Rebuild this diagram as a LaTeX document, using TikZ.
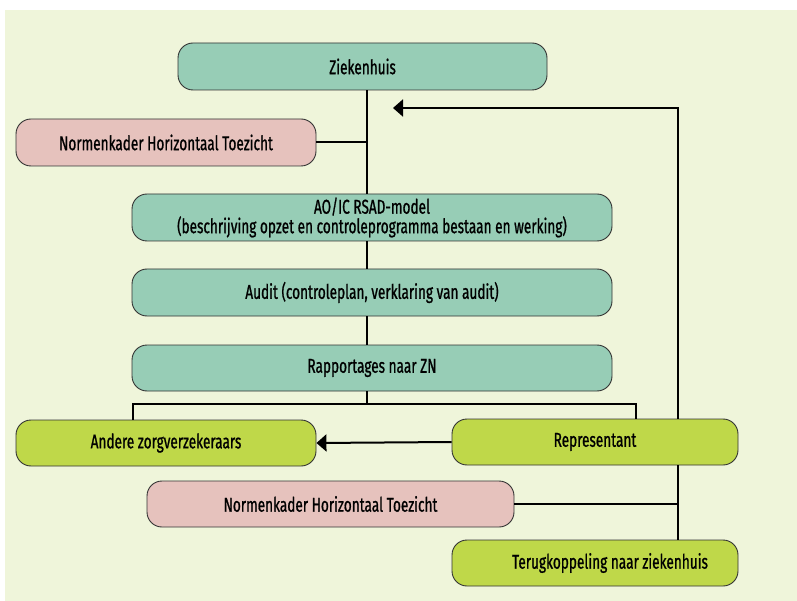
\documentclass[tikz,border=0pt]{standalone}
\usepackage{fontspec}
\setmainfont{Fira Sans}[FakeStretch=0.68,FakeBold=0.9]
\usepackage{tikz}
\usetikzlibrary{arrows.meta,positioning}
\definecolor{bgcol}{HTML}{EFF5DA}
\definecolor{tealbox}{HTML}{97CDB6}
\definecolor{pinkbox}{HTML}{E6C2BD}
\definecolor{limebox}{HTML}{BFD849}
\definecolor{edgecol}{HTML}{333333}
\tikzset{
  every picture/.append style={line cap=butt,line join=miter},
  hz box/.style={draw=edgecol,line width=0.9pt,rounded corners=15pt,inner sep=0pt,
    minimum height=47pt,font=\fontsize{20}{19.5}\selectfont,align=center,text=black},
  hz main/.style={hz box,fill=tealbox},
  hz norm/.style={hz box,fill=pinkbox},
  hz party/.style={hz box,fill=limebox},
  hz line/.style={line width=2pt,black},
  hz arrow/.style={hz line,-{Triangle[length=10pt,width=17pt]}}
}
\begin{document}
\begin{tikzpicture}[x=1pt,y=-1pt]
  \useasboundingbox (0,0) rectangle (797,601);
  \fill[bgcol] (5,10) rectangle (797,601);
  % stack of the hospital
  \node[hz main, minimum width=369pt] (zh) at (362.5,66.5) {Ziekenhuis};
  \node[hz norm, minimum width=300pt] (nk1) at (166,142.5) {Normenkader Horizontaal Toezicht};
  \node[hz main, minimum width=480pt] (ao) at (372,217.5)
    {AO/IC RSAD-model\\(beschrijving opzet en controleprogramma bestaan en werking)};
  \node[hz main, minimum width=480pt] (au) at (372,292.5) {Audit (controleplan, verklaring van audit)};
  \node[hz main, minimum width=480pt, minimum height=46pt] (rp) at (372,368) {Rapportages naar ZN};
  % insurers
  \node[hz party, minimum width=300pt, minimum height=46pt] (az) at (166,443) {Andere zorgverzekeraars};
  \node[hz party, minimum width=286pt, minimum height=46pt] (re) at (595,442) {Representant};
  \node[hz norm, minimum width=367pt, minimum height=46pt] (nk2) at (330.5,504) {Normenkader Horizontaal Toezicht};
  \node[hz party, minimum width=286pt, minimum height=46pt] (tk) at (595,563)
    {\hspace*{30pt}Terugkoppeling naar ziekenhuis};
  % spine and branches
  \coordinate (sp) at (367,404);
  \coordinate (bl) at (133,404);
  \coordinate (br) at (636,404);
  \coordinate (fb) at (678,108);
  \coordinate (fbtip) at (393,108);
  \draw[hz line] (sp |- zh.south) -- (sp |- ao.north);
  \draw[hz line] (nk1.east) -- (sp |- nk1.east);
  \draw[hz line] (sp |- ao.south) -- (sp |- au.north);
  \draw[hz line] (sp |- au.south) -- (sp |- rp.north);
  \draw[hz line] (sp |- rp.south) -- (sp);
  \draw[hz line] (bl |- az.north) -- (bl) -- (br) -- (br |- re.north);
  \draw[hz arrow] (re.west) -- (az.east);
  % feedback loop
  \draw[hz arrow] (fb |- re.north) -- (fb) -- (fbtip);
  \draw[hz line] (fb |- re.south) -- (fb |- tk.north);
  \draw[hz line] (nk2.east) -- (fb |- nk2.east);
\end{tikzpicture}
\end{document}
